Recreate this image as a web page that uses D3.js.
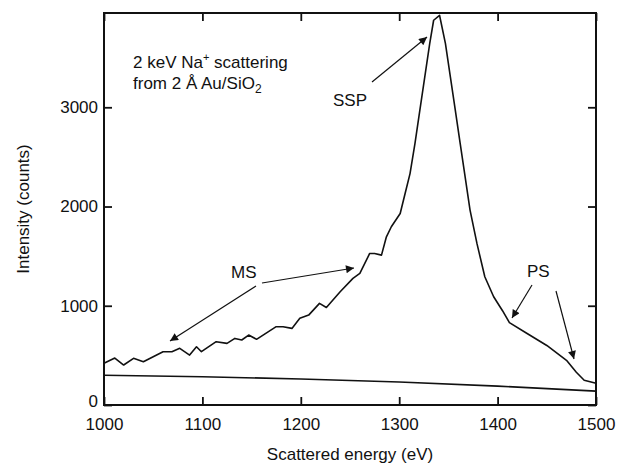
<!DOCTYPE html>
<html><head><meta charset="utf-8">
<script src="https://cdn.jsdelivr.net/npm/d3@7/dist/d3.min.js"></script>
<style>body{margin:0;background:#fff}svg{display:block}text{font-family:"Liberation Sans",Arial,sans-serif;fill:#111}</style>
</head><body><svg id="c" width="618" height="468"></svg>
<script>
const energy = [1000,1011,1020,1030,1040,1050,1060,1069,1077,1087,1094,1099,1114,1125,1133,1140,1147,1155,1175,1182,1191,1199,1208,1219,1226,1240,1253,1260,1270,1275,1282,1287,1292,1301,1306,1311,1316,1321,1326,1331,1335,1341,1347,1352,1357,1362,1367,1372,1379,1387,1396,1405,1412,1430,1450,1470,1480,1488,1500];
const counts = [420,473,403,470,436,487,537,537,571,503,587,537,638,621,671,655,705,662,789,789,772,873,906,1024,983,1141,1276,1326,1527,1527,1510,1695,1796,1930,2131,2332,2634,2971,3306,3642,3877,3927,3642,3306,2971,2634,2299,1964,1628,1292,1091,950,830,720,600,450,330,250,220];
const bgEnergy = [1000,1100,1200,1300,1400,1500];
const bgCounts = [300,285,262,232,190,140];
const xTicks = [1000,1100,1200,1300,1400,1500];
const yTicks = [0,1000,2000,3000];

const svg = d3.select("#c");
const L=104,R=596,T=13,B=405;
const x = d3.scaleLinear().domain([1000,1500]).range([L,R]);
const y = d3.scaleLinear().domain([0,3950]).range([B,T]);

const line = d3.line().x(d=>x(d[0])).y(d=>y(d[1]));
svg.append("path").datum(energy.map((e,i)=>[e,counts[i]])).attr("d",line)
  .attr("fill","none").attr("stroke","#111").attr("stroke-width",1.6).attr("stroke-linejoin","round");
svg.append("path").datum(bgEnergy.map((e,i)=>[e,bgCounts[i]])).attr("d",line.curve(d3.curveMonotoneX))
  .attr("fill","none").attr("stroke","#111").attr("stroke-width",1.6);

// axes
const fs = "17px";
const gb = svg.append("g").attr("transform",`translate(0,${B})`).call(d3.axisBottom(x).tickValues(xTicks).tickSize(-8).tickPadding(13).tickFormat(d3.format("d")));
const gt = svg.append("g").attr("transform",`translate(0,${T})`).call(d3.axisTop(x).tickValues(xTicks).tickSize(-8).tickFormat(""));
const gl = svg.append("g").attr("transform",`translate(${L},0)`).call(d3.axisLeft(y).tickValues(yTicks).tickSize(-8).tickPadding(6).tickFormat(d3.format("d")));
const gr = svg.append("g").attr("transform",`translate(${R},0)`).call(d3.axisRight(y).tickValues(yTicks).tickSize(-8).tickFormat(""));
[gb,gt,gl,gr].forEach(g=>{
  g.select(".domain").remove();
  g.selectAll(".tick line").attr("stroke","#111").attr("stroke-width",1.8);
  g.selectAll("text").style("font-size",fs).attr("font-family","Liberation Sans, Arial, sans-serif").attr("fill","#111");
});
gl.selectAll(".tick").filter(d=>d===0).select("text").attr("dy","0.1em");
svg.append("rect").attr("x",L).attr("y",T).attr("width",R-L).attr("height",B-T)
  .attr("fill","none").attr("stroke","#111").attr("stroke-width",2);

svg.append("text").attr("x",(L+R)/2).attr("y",460).attr("text-anchor","middle").style("font-size","17px").text("Scattered energy (eV)");
svg.append("text").attr("transform",`translate(29,${(T+B)/2}) rotate(-90)`).attr("text-anchor","middle").style("font-size","17px").text("Intensity (counts)");

// annotations
const af = "17px";
const t1 = svg.append("text").attr("x",133).attr("y",68).style("font-size",af);
t1.append("tspan").text("2 keV Na");
t1.append("tspan").attr("dy",-7).style("font-size","11px").text("+");
t1.append("tspan").attr("dy",7).text(" scattering");
const t2 = svg.append("text").attr("x",133).attr("y",89).style("font-size",af);
t2.append("tspan").text("from 2 Å Au/SiO");
t2.append("tspan").attr("dy",4).style("font-size","12px").text("2");
svg.append("text").attr("x",333).attr("y",106).style("font-size",af).text("SSP");
svg.append("text").attr("x",231).attr("y",278).style("font-size",af).text("MS");
svg.append("text").attr("x",527).attr("y",277).style("font-size",af).text("PS");

svg.append("defs").append("marker").attr("id","ah").attr("viewBox","0 0 10 10").attr("refX",10).attr("refY",5)
  .attr("markerWidth",11).attr("markerHeight",8).attr("markerUnits","userSpaceOnUse").attr("orient","auto")
  .append("path").attr("d","M0,0L10,5L0,10z").attr("fill","#111");
const arrows = [[372,82,427,37],[262,283,354,268],[256,286,170,341],[532,285,512,318],[556,291,574,359]];
arrows.forEach(a=>svg.append("line").attr("x1",a[0]).attr("y1",a[1]).attr("x2",a[2]).attr("y2",a[3])
  .attr("stroke","#111").attr("stroke-width",1.2).attr("marker-end","url(#ah)"));
</script></body></html>
